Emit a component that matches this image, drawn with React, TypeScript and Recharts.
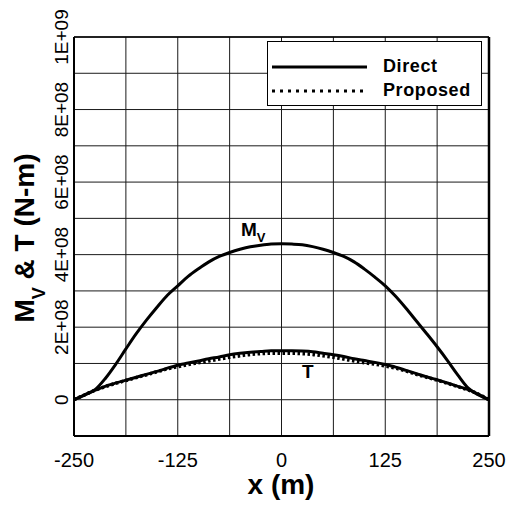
import React from 'react';
import { LineChart, Line, XAxis, YAxis, CartesianGrid, Legend, ReferenceLine } from 'recharts';

const FONT = "'Liberation Sans', Arial, Helvetica, sans-serif";

// x position along the ship (m)
const xPositions = [
  -250, -237.5, -225, -212.5, -200, -187.5, -175, -162.5, -150, -137.5, -125,
  -112.5, -100, -87.5, -75, -62.5, -50, -37.5, -25, -12.5, 0,
  12.5, 25, 37.5, 50, 62.5, 75, 87.5, 100, 112.5, 125,
  137.5, 150, 162.5, 175, 187.5, 200, 212.5, 225, 237.5, 250,
];

// values in units of 1E+08 N-m
const mvDirect = [
  0, 0.13, 0.27, 0.58, 0.97, 1.4, 1.82, 2.2, 2.55, 2.88, 3.14,
  3.4, 3.61, 3.8, 3.95, 4.06, 4.15, 4.22, 4.26, 4.29, 4.3,
  4.29, 4.27, 4.22, 4.15, 4.06, 3.95, 3.8, 3.6, 3.38, 3.14,
  2.85, 2.52, 2.17, 1.82, 1.46, 1.08, 0.68, 0.32, 0.13, 0,
];

const tDirect = [
  0, 0.13, 0.26, 0.37, 0.46, 0.54, 0.62, 0.7, 0.78, 0.87, 0.95,
  1.01, 1.07, 1.13, 1.18, 1.24, 1.28, 1.31, 1.33, 1.35, 1.35,
  1.35, 1.34, 1.32, 1.28, 1.24, 1.19, 1.13, 1.08, 1.03, 0.97,
  0.9, 0.81, 0.72, 0.63, 0.55, 0.46, 0.37, 0.28, 0.15, 0,
];

const tProposed = [
  0, 0.13, 0.26, 0.36, 0.45, 0.53, 0.61, 0.69, 0.77, 0.85, 0.91,
  0.97, 1.02, 1.07, 1.12, 1.17, 1.21, 1.25, 1.27, 1.28, 1.28,
  1.28, 1.27, 1.25, 1.21, 1.17, 1.12, 1.07, 1.02, 0.98, 0.93,
  0.87, 0.79, 0.7, 0.62, 0.54, 0.45, 0.36, 0.27, 0.15, 0,
];

const xTicks = [-250, -187.5, -125, -62.5, 0, 62.5, 125, 187.5, 250];
const xTickLabels = ['-250', '', '-125', '', '0', '', '125', '', '250'];
const yTicks = [-1, 0, 1, 2, 3, 4, 5, 6, 7, 8, 9, 10];
const yTickLabels = ['', '0', '', '2E+08', '', '4E+08', '', '6E+08', '', '8E+08', '', '1E+09'];

const legendNames = ['Direct', 'Proposed'];

const data = xPositions.map((x, i) => ({
  x,
  mv: mvDirect[i],
  tDirect: tDirect[i],
  tProposed: tProposed[i],
}));

const XTick = (props: any) => {
  const { x, payload } = props;
  const idx = xTicks.indexOf(payload.value);
  const label = idx >= 0 ? xTickLabels[idx] : '';
  return (
    <text x={x} y={467} textAnchor="middle" fontSize={20} fontFamily={FONT} fill="#000">
      {label}
    </text>
  );
};

const YTick = (props: any) => {
  const { y, payload } = props;
  const idx = yTicks.indexOf(payload.value);
  const label = idx >= 0 ? yTickLabels[idx] : '';
  return (
    <text
      transform={`translate(68,${y}) rotate(-90)`}
      textAnchor="middle"
      fontSize={19}
      fontFamily={FONT}
      fill="#000"
    >
      {label}
    </text>
  );
};

const LegendBox = (props: any) => {
  const payload = (props.payload || []).filter((p: any) => legendNames.includes(p.value));
  return (
    <div
      style={{
        width: 213,
        height: 63,
        border: '1px solid #000',
        background: '#fff',
        boxSizing: 'content-box',
      }}
    >
      <svg width={213} height={63}>
        {payload.map((p: any, i: number) => (
          <g key={p.value}>
            <line
              x1={4}
              x2={99}
              y1={25 + i * 24}
              y2={25 + i * 24}
              stroke="#000"
              strokeWidth={i === 1 ? 3 : 3}
              strokeDasharray={i === 1 ? '3 5' : undefined}
            />
            <text
              x={115}
              y={30 + i * 24}
              fontSize={18}
              fontWeight="bold"
              fontFamily={FONT}
              letterSpacing={0.6}
              fill="#000"
            >
              {p.value}
            </text>
          </g>
        ))}
      </svg>
    </div>
  );
};

export default function App() {
  return (
    <div style={{ position: 'absolute', left: 0, top: 0, width: 509, height: 505, background: '#fff' }}>
      <LineChart
        width={509}
        height={505}
        data={data}
        margin={{ top: 37, right: 20, bottom: 0, left: 0 }}
      >
        <CartesianGrid stroke="#1a1a1a" strokeWidth={1} />
        <XAxis
          dataKey="x"
          type="number"
          domain={[-250, 250]}
          ticks={xTicks}
          interval={0}
          tick={<XTick />}
          tickLine={false}
          axisLine={{ stroke: '#000', strokeWidth: 2 }}
          height={69}
        />
        <YAxis
          type="number"
          domain={[-1, 10]}
          ticks={yTicks}
          interval={0}
          tick={<YTick />}
          tickLine={false}
          axisLine={{ stroke: '#000', strokeWidth: 2 }}
          width={74}
        />
        <ReferenceLine x={250} stroke="#000" strokeWidth={2.5} />
        <ReferenceLine y={10} stroke="#000" strokeWidth={1.5} />
        <Line
          dataKey="mv"
          name="Mv"
          type="monotone"
          stroke="#000"
          strokeWidth={3}
          dot={false}
          legendType="none"
          isAnimationActive={false}
        />
        <Line
          dataKey="tDirect"
          name="Direct"
          type="monotone"
          stroke="#000"
          strokeWidth={3}
          dot={false}
          isAnimationActive={false}
        />
        <Line
          dataKey="tProposed"
          name="Proposed"
          type="monotone"
          stroke="#000"
          strokeWidth={3.5}
          strokeDasharray="2.5 2.5"
          dot={false}
          isAnimationActive={false}
        />
        <Legend
          layout="horizontal"
          verticalAlign="middle"
          align="center"
          content={<LegendBox />}
          wrapperStyle={{ position: 'absolute', left: 267, top: 41, width: 215, height: 65 }}
        />
      </LineChart>
      <svg
        width={509}
        height={505}
        style={{ position: 'absolute', left: 0, top: 0, pointerEvents: 'none' }}
      >
        <text
          transform="translate(34,238) rotate(-90)"
          textAnchor="middle"
          fontSize={28}
          fontWeight="bold"
          fontFamily={FONT}
          fill="#000"
        >
          M<tspan fontSize={18} dy={11}>V</tspan>
          <tspan dy={-11}> &amp; T (N-m)</tspan>
        </text>
        <text x={281} y={494} textAnchor="middle" fontSize={28} fontWeight="bold" fontFamily={FONT} fill="#000">
          x (m)
        </text>
        <text x={241} y={236} fontSize={19} fontWeight="bold" fontFamily={FONT} fill="#000">
          M<tspan fontSize={13} dy={6}>V</tspan>
        </text>
        <text x={302} y={378} fontSize={19} fontWeight="bold" fontFamily={FONT} fill="#000">
          T
        </text>
      </svg>
    </div>
  );
}
